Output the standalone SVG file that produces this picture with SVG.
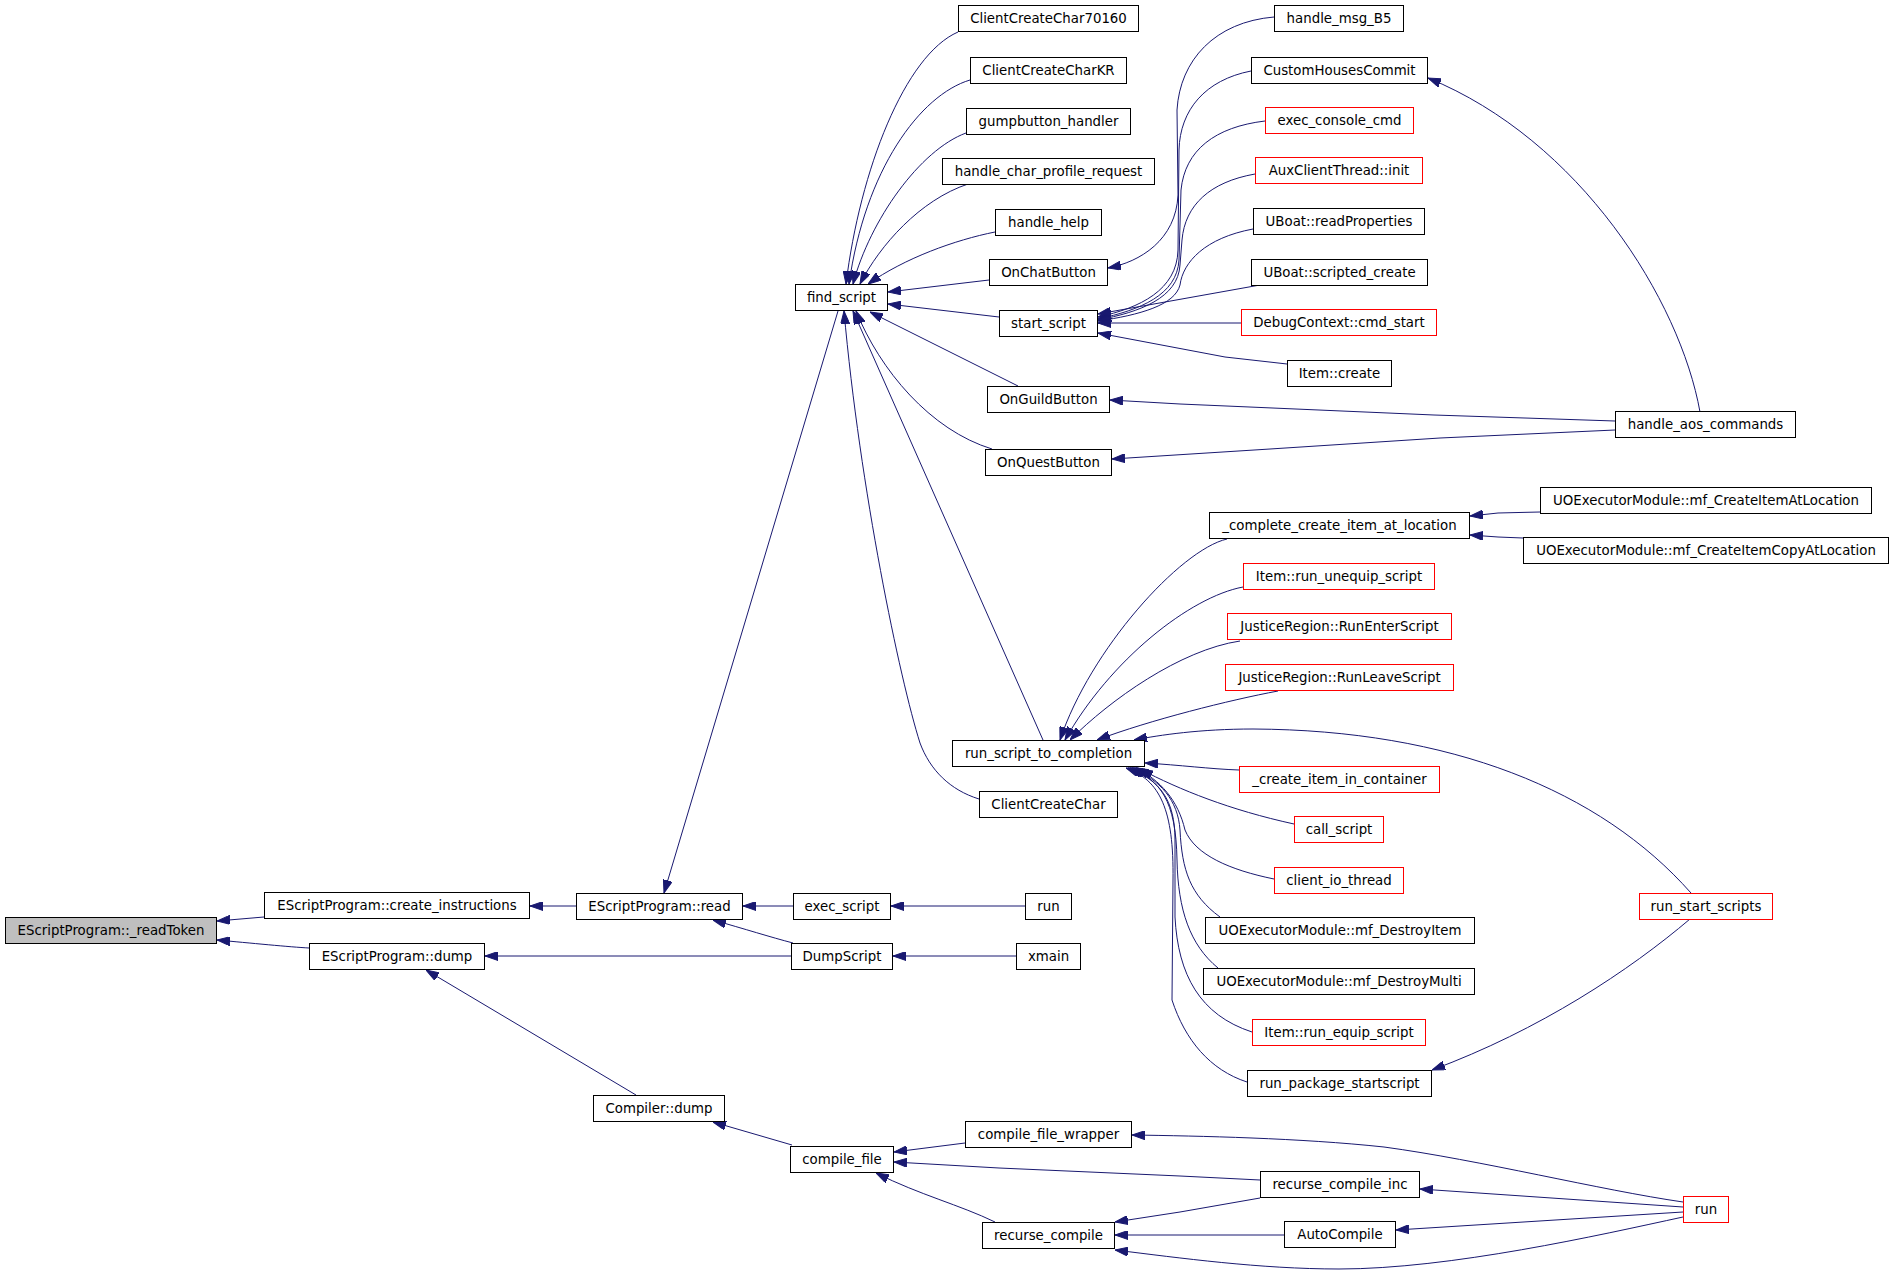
<svg xmlns="http://www.w3.org/2000/svg" width="1893" height="1274" viewBox="0 0 1893 1274">
<style>
.node rect{fill:#ffffff;stroke:#000000;stroke-width:1}
.red rect{stroke:#ff0000}
.root rect{fill:#bfbfbf}
.node text{font-family:"DejaVu Sans","Liberation Sans",sans-serif;font-size:13.33px;text-anchor:middle;fill:#000000}
#edges path{fill:none;stroke:#191970;stroke-width:1;marker-end:url(#arr)}
</style>
<defs>
<marker id="arr" markerUnits="userSpaceOnUse" markerWidth="13" markerHeight="9" refX="13" refY="4.5" orient="auto">
<path d="M0,0 L13,4.5 L0,9 z" fill="#191970" stroke="#191970" stroke-width="1"/>
</marker>
</defs>
<rect width="1893" height="1274" fill="#ffffff"/>
<g id="edges">
<path d="M264,917 L217,921"/>
<path d="M309,948 C290,947 250,943 217,940"/>
<path d="M576,906 L530,906"/>
<path d="M793,906 L743,906"/>
<path d="M1025,906 L891,906"/>
<path d="M793,943 C770,937 745,929 713,920"/>
<path d="M791,956 L485,956"/>
<path d="M1016,956 L893,956"/>
<path d="M838,311 L664,893"/>
<path d="M958,32 C905,55 860,170 846,284"/>
<path d="M970,80 C920,95 865,170 849,284"/>
<path d="M966,133 C920,150 870,220 853,284"/>
<path d="M968,184 C920,200 880,245 860,284"/>
<path d="M995,232 C955,240 905,258 868,284"/>
<path d="M989,280 L888,292"/>
<path d="M999,317 L888,304"/>
<path d="M1018,386 L870,312"/>
<path d="M992,449 C930,430 880,370 856,311"/>
<path d="M1043,740 L853,311"/>
<path d="M979,799 C950,790 930,770 920,743 C900,680 860,490 844,311"/>
<path d="M1274,17 C1215,22 1180,60 1177,110 L1178,195 C1176,240 1140,262 1108,268"/>
<path d="M1251,71 C1205,80 1180,110 1179,150 L1178,250 C1177,290 1140,308 1098,317"/>
<path d="M1265,121 C1215,127 1185,150 1181,190 L1179,260 C1177,295 1140,310 1098,319"/>
<path d="M1255,174 C1210,182 1185,205 1182,240 L1180,265 C1178,298 1140,312 1098,320"/>
<path d="M1253,229 C1205,238 1183,262 1180,285 C1175,305 1140,315 1098,321"/>
<path d="M1260,285 L1098,314"/>
<path d="M1241,323 L1098,323"/>
<path d="M1287,364 L1225,357 L1098,333"/>
<path d="M1700,412 C1680,300 1580,140 1428,78"/>
<path d="M1615,421 L1434,415 L1180,404 L1110,400"/>
<path d="M1615,430 L1440,438 L1270,449 L1112,459"/>
<path d="M1540,512 L1498,513 L1470,516"/>
<path d="M1523,538 L1498,537 L1470,535"/>
<path d="M1227,539 C1180,550 1090,650 1060,740"/>
<path d="M1243,587 C1190,597 1110,660 1065,740"/>
<path d="M1240,641 C1180,650 1110,700 1070,740"/>
<path d="M1278,691 C1230,700 1150,720 1097,740"/>
<path d="M1691,893 C1600,790 1450,730 1253,729 C1200,729 1160,735 1134,740"/>
<path d="M1239,770 C1210,769 1180,765 1145,763"/>
<path d="M1294,824 C1230,810 1180,790 1140,769"/>
<path d="M1274,879 C1230,870 1195,855 1185,830 C1178,800 1160,780 1136,768"/>
<path d="M1220,917 C1190,895 1182,870 1180,830 C1178,800 1160,780 1132,768"/>
<path d="M1218,968 C1190,945 1178,910 1177,860 C1176,800 1160,780 1130,768"/>
<path d="M1252,1032 C1200,1015 1178,975 1175,917 L1175,840 C1175,800 1160,780 1128,768"/>
<path d="M1247,1082 C1210,1070 1185,1040 1172,1000 L1173,880 C1174,810 1160,780 1126,768"/>
<path d="M1690,919 C1630,970 1540,1030 1432,1070"/>
<path d="M636,1095 L426,970"/>
<path d="M792,1145 L713,1122"/>
<path d="M965,1143 L894,1152"/>
<path d="M1260,1180 L1180,1176 L999,1168 L894,1162"/>
<path d="M995,1222 C960,1205 920,1195 876,1173"/>
<path d="M1260,1198 L1180,1212 L1115,1222"/>
<path d="M1284,1235 L1115,1235"/>
<path d="M1683,1217 C1600,1235 1450,1269 1339,1269 C1260,1269 1180,1258 1115,1250"/>
<path d="M1683,1212 L1396,1230"/>
<path d="M1683,1207 L1420,1189"/>
<path d="M1683,1202 C1600,1190 1480,1160 1384,1147 C1300,1138 1200,1136 1132,1135"/>
</g>
<g id="n0" class="node root"><rect x="5.5" y="917.5" width="211" height="26"/><text x="111" y="935">EScriptProgram::_readToken</text></g>
<g id="n1" class="node"><rect x="264.5" y="892.5" width="265" height="26"/><text x="397" y="910">EScriptProgram::create_instructions</text></g>
<g id="n2" class="node"><rect x="309.5" y="943.5" width="175" height="26"/><text x="397" y="960.5">EScriptProgram::dump</text></g>
<g id="n3" class="node"><rect x="576.5" y="893.5" width="166" height="26"/><text x="659.5" y="910.5">EScriptProgram::read</text></g>
<g id="n4" class="node"><rect x="793.5" y="893.5" width="97" height="26"/><text x="842" y="910.5">exec_script</text></g>
<g id="n5" class="node"><rect x="1025.5" y="893.5" width="46" height="26"/><text x="1048.5" y="910.5">run</text></g>
<g id="n6" class="node"><rect x="791.5" y="943.5" width="101" height="26"/><text x="842" y="960.5">DumpScript</text></g>
<g id="n7" class="node"><rect x="1016.5" y="943.5" width="64" height="26"/><text x="1048.5" y="960.5">xmain</text></g>
<g id="n8" class="node"><rect x="958.5" y="5.5" width="180" height="26"/><text x="1048.5" y="23">ClientCreateChar70160</text></g>
<g id="n9" class="node"><rect x="970.5" y="57.5" width="156" height="26"/><text x="1048.5" y="74.5">ClientCreateCharKR</text></g>
<g id="n10" class="node"><rect x="966.5" y="108.5" width="164" height="26"/><text x="1048.5" y="125.5">gumpbutton_handler</text></g>
<g id="n11" class="node"><rect x="942.5" y="158.5" width="212" height="26"/><text x="1048.5" y="175.5">handle_char_profile_request</text></g>
<g id="n12" class="node"><rect x="995.5" y="209.5" width="106" height="26"/><text x="1048.5" y="226.5">handle_help</text></g>
<g id="n13" class="node"><rect x="989.5" y="259.5" width="118" height="26"/><text x="1048.5" y="276.5">OnChatButton</text></g>
<g id="n14" class="node"><rect x="795.5" y="284.5" width="92" height="26"/><text x="841.5" y="302">find_script</text></g>
<g id="n15" class="node"><rect x="999.5" y="310.5" width="98" height="26"/><text x="1048.5" y="327.5">start_script</text></g>
<g id="n16" class="node"><rect x="987.5" y="386.5" width="122" height="26"/><text x="1048.5" y="403.5">OnGuildButton</text></g>
<g id="n17" class="node"><rect x="985.5" y="449.5" width="126" height="26"/><text x="1048.5" y="467">OnQuestButton</text></g>
<g id="n18" class="node"><rect x="1274.5" y="5.5" width="129" height="26"/><text x="1339" y="23">handle_msg_B5</text></g>
<g id="n19" class="node"><rect x="1251.5" y="57.5" width="176" height="26"/><text x="1339.5" y="74.5">CustomHousesCommit</text></g>
<g id="n20" class="node red"><rect x="1265.5" y="107.5" width="148" height="26"/><text x="1339.5" y="124.5">exec_console_cmd</text></g>
<g id="n21" class="node red"><rect x="1255.5" y="157.5" width="167" height="26"/><text x="1339" y="175">AuxClientThread::init</text></g>
<g id="n22" class="node"><rect x="1253.5" y="208.5" width="171" height="26"/><text x="1339" y="226">UBoat::readProperties</text></g>
<g id="n23" class="node"><rect x="1251.5" y="259.5" width="176" height="26"/><text x="1339.5" y="276.5">UBoat::scripted_create</text></g>
<g id="n24" class="node red"><rect x="1241.5" y="309.5" width="195" height="26"/><text x="1339" y="327">DebugContext::cmd_start</text></g>
<g id="n25" class="node"><rect x="1287.5" y="360.5" width="104" height="26"/><text x="1339.5" y="378">Item::create</text></g>
<g id="n26" class="node"><rect x="1615.5" y="411.5" width="180" height="26"/><text x="1705.5" y="429">handle_aos_commands</text></g>
<g id="n27" class="node"><rect x="1540.5" y="487.5" width="331" height="26"/><text x="1706" y="504.5">UOExecutorModule::mf_CreateItemAtLocation</text></g>
<g id="n28" class="node"><rect x="1523.5" y="537.5" width="365" height="26"/><text x="1706" y="555">UOExecutorModule::mf_CreateItemCopyAtLocation</text></g>
<g id="n29" class="node"><rect x="1209.5" y="512.5" width="260" height="26"/><text x="1339.5" y="530">_complete_create_item_at_location</text></g>
<g id="n30" class="node red"><rect x="1243.5" y="563.5" width="191" height="26"/><text x="1339" y="580.5">Item::run_unequip_script</text></g>
<g id="n31" class="node red"><rect x="1227.5" y="613.5" width="224" height="26"/><text x="1339.5" y="631">JusticeRegion::RunEnterScript</text></g>
<g id="n32" class="node red"><rect x="1225.5" y="664.5" width="228" height="26"/><text x="1339.5" y="682">JusticeRegion::RunLeaveScript</text></g>
<g id="n33" class="node"><rect x="952.5" y="740.5" width="192" height="26"/><text x="1048.5" y="758">run_script_to_completion</text></g>
<g id="n34" class="node"><rect x="979.5" y="791.5" width="138" height="26"/><text x="1048.5" y="809">ClientCreateChar</text></g>
<g id="n35" class="node red"><rect x="1239.5" y="766.5" width="200" height="26"/><text x="1339.5" y="783.5">_create_item_in_container</text></g>
<g id="n36" class="node red"><rect x="1294.5" y="816.5" width="89" height="26"/><text x="1339" y="834">call_script</text></g>
<g id="n37" class="node red"><rect x="1274.5" y="867.5" width="129" height="26"/><text x="1339" y="885">client_io_thread</text></g>
<g id="n38" class="node"><rect x="1205.5" y="917.5" width="269" height="26"/><text x="1340" y="935">UOExecutorModule::mf_DestroyItem</text></g>
<g id="n39" class="node"><rect x="1203.5" y="968.5" width="271" height="26"/><text x="1339" y="986">UOExecutorModule::mf_DestroyMulti</text></g>
<g id="n40" class="node red"><rect x="1252.5" y="1019.5" width="173" height="26"/><text x="1339" y="1036.5">Item::run_equip_script</text></g>
<g id="n41" class="node"><rect x="1247.5" y="1070.5" width="184" height="26"/><text x="1339.5" y="1087.5">run_package_startscript</text></g>
<g id="n42" class="node red"><rect x="1639.5" y="893.5" width="133" height="26"/><text x="1706" y="910.5">run_start_scripts</text></g>
<g id="n43" class="node"><rect x="593.5" y="1095.5" width="131" height="26"/><text x="659" y="1112.5">Compiler::dump</text></g>
<g id="n44" class="node"><rect x="790.5" y="1146.5" width="103" height="26"/><text x="842" y="1163.5">compile_file</text></g>
<g id="n45" class="node"><rect x="965.5" y="1121.5" width="166" height="26"/><text x="1048.5" y="1138.5">compile_file_wrapper</text></g>
<g id="n46" class="node"><rect x="982.5" y="1222.5" width="132" height="26"/><text x="1048.5" y="1239.5">recurse_compile</text></g>
<g id="n47" class="node"><rect x="1260.5" y="1171.5" width="159" height="26"/><text x="1340" y="1189">recurse_compile_inc</text></g>
<g id="n48" class="node"><rect x="1284.5" y="1221.5" width="111" height="26"/><text x="1340" y="1239">AutoCompile</text></g>
<g id="n49" class="node red"><rect x="1683.5" y="1196.5" width="45" height="26"/><text x="1706" y="1214">run</text></g>
</svg>
